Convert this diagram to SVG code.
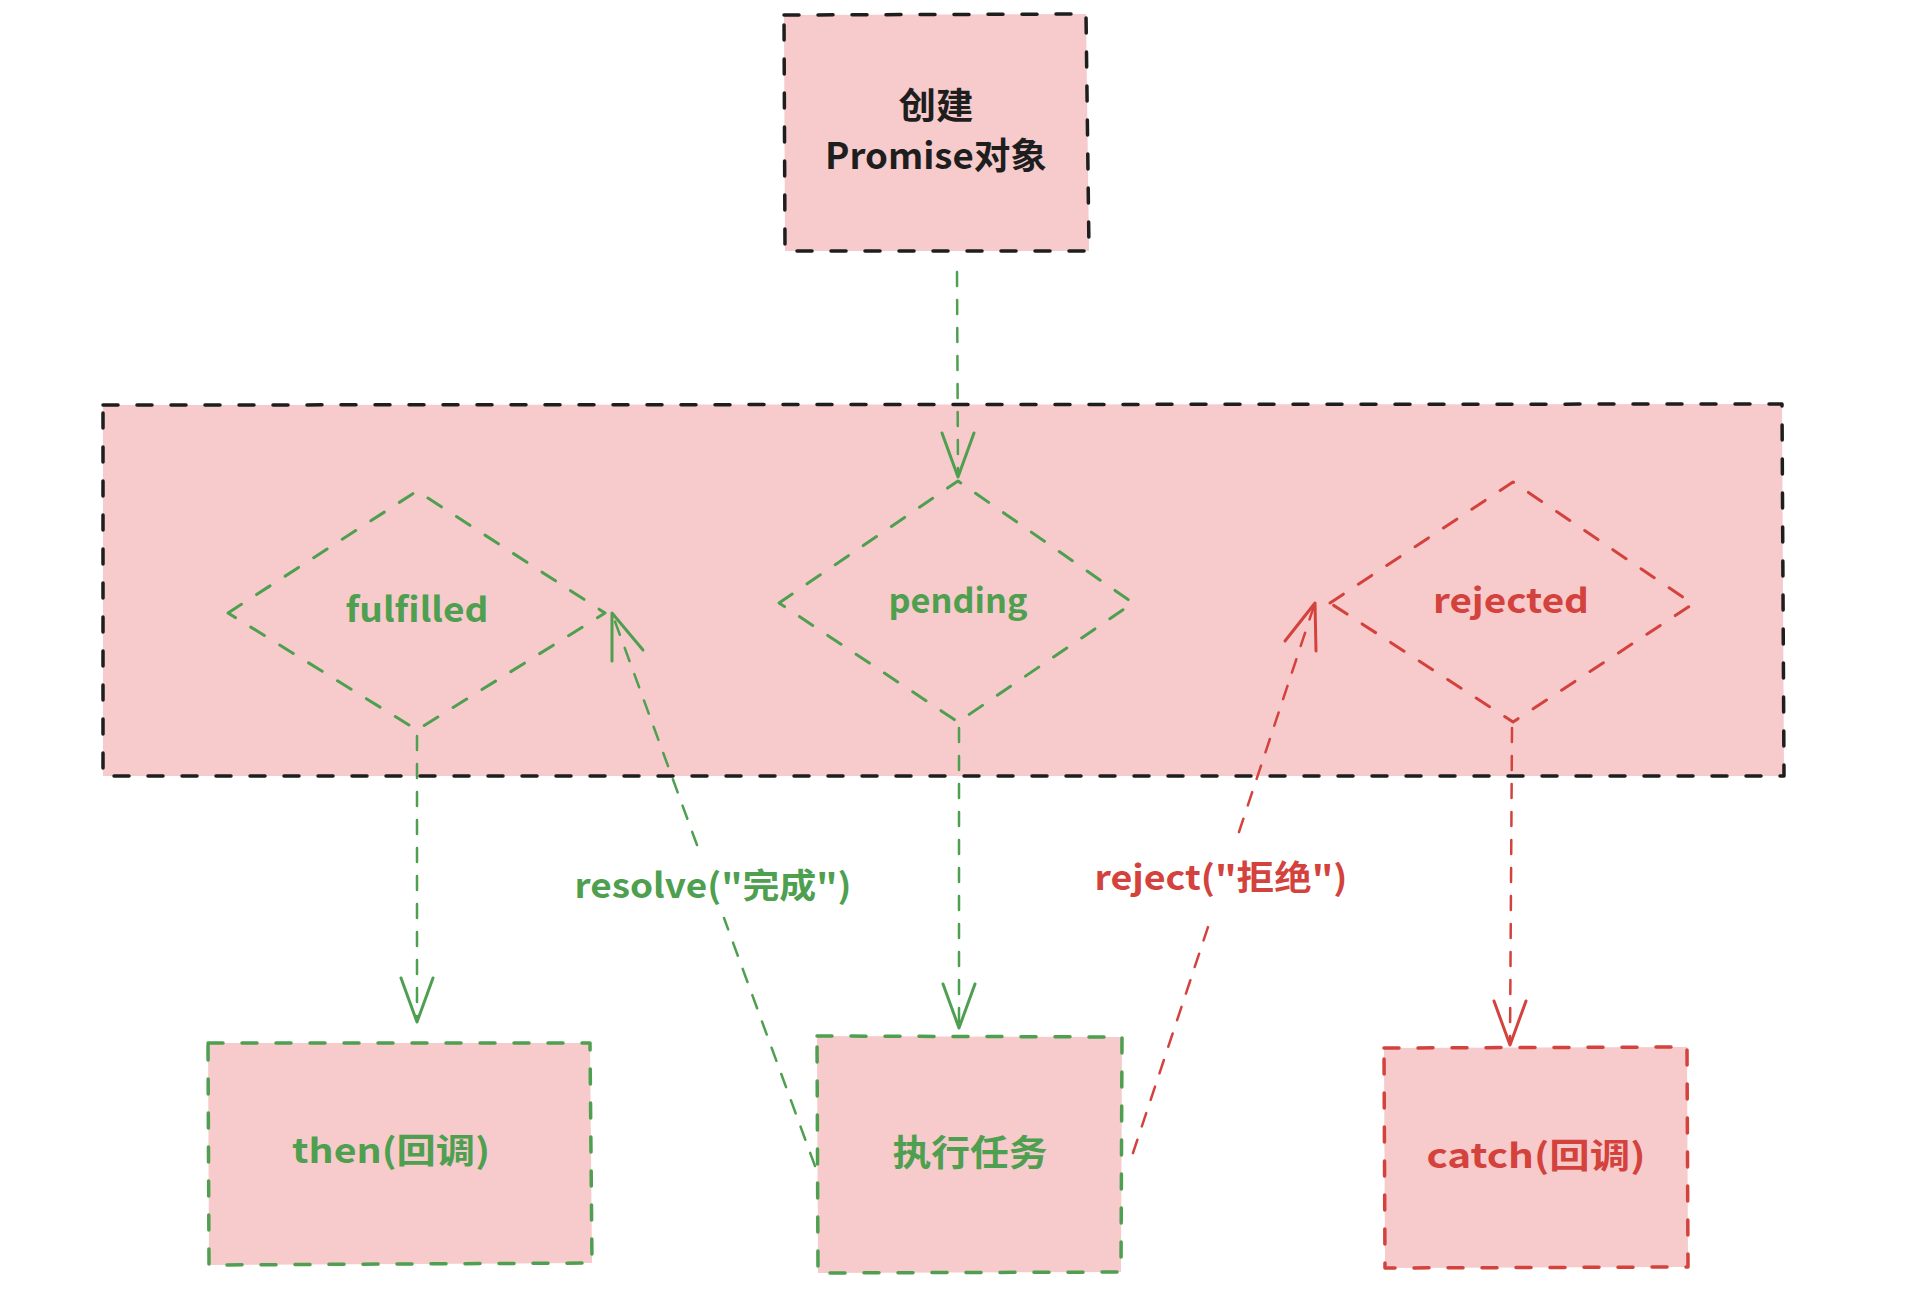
<svg xmlns="http://www.w3.org/2000/svg" width="1910" height="1302" viewBox="0 0 1910 1302">
<style>
.box{fill:#f7cbcb;stroke-width:3.5;stroke-dasharray:15 19;stroke-linecap:round;stroke-linejoin:round}
.blk{stroke:#1e1e1e}
.grn{stroke:#4e9f50}
.red{stroke:#d3423c}
.dia{fill:none;stroke-width:3;stroke-dasharray:16 18;stroke-linecap:round;stroke-linejoin:round}
.ln{fill:none;stroke-width:2.5;stroke-dasharray:14 14;stroke-linecap:round}
.hd{fill:none;stroke-width:3;stroke-linecap:round;stroke-linejoin:round}
text{font-family:"Noto Sans CJK SC","Noto Sans",sans-serif;text-anchor:middle;font-weight:bold}
.tg{fill:#4e9f50;font-size:34px}
.tr{fill:#d3423c;font-size:34px}
.tk{fill:#1e1e1e;font-size:36px}
</style>
<rect width="1910" height="1302" fill="#ffffff"/>
<g id="container">
<polygon class="box blk" points="103,405 1782,404 1784,776 103,776"/>
</g>
<g id="create">
<polygon class="box blk" points="784,15 1086,14 1089,251 785,251"/>
<text class="tk" x="936" y="119" textLength="75" lengthAdjust="spacingAndGlyphs">创建</text>
<text class="tk" x="936" y="169" textLength="222" lengthAdjust="spacingAndGlyphs">Promise对象</text>
</g>
<g id="fulfilled">
<polygon class="dia grn" points="228,613 417,491 605,613 417,730"/>
<text class="tg" x="417" y="622" textLength="143" lengthAdjust="spacingAndGlyphs">fulfilled</text>
</g>
<g id="pending">
<polygon class="dia grn" points="779,603 958,481 1133,603 958,722"/>
<text class="tg" x="958" y="613" textLength="139" lengthAdjust="spacingAndGlyphs">pending</text>
</g>
<g id="rejected">
<polygon class="dia red" points="1330,603 1513,482 1693,604 1513,722"/>
<text class="tr" x="1511" y="613" textLength="156" lengthAdjust="spacingAndGlyphs">rejected</text>
</g>
<g id="then">
<polygon class="box grn" points="208,1043 590,1043 592,1263 209,1265"/>
<text class="tg" x="391" y="1163" textLength="198" lengthAdjust="spacingAndGlyphs">then(回调)</text>
</g>
<g id="exec">
<polygon class="box grn" points="817,1036 1122,1037 1121,1272 818,1273"/>
<text class="tg" x="970" y="1166" style="font-size:36px" textLength="155" lengthAdjust="spacingAndGlyphs">执行任务</text>
</g>
<g id="catch">
<polygon class="box red" points="1384,1048 1687,1047 1688,1267 1385,1268"/>
<text class="tr" x="1536" y="1168" textLength="219" lengthAdjust="spacingAndGlyphs">catch(回调)</text>
</g>
<g id="connectors">
<path class="ln grn" d="M957,272 L958,475"/>
<path class="hd grn" d="M942,433 L958,477 L974,433"/>
<path class="ln grn" d="M417,736 L417,1020"/>
<path class="hd grn" d="M401,978 L417,1022 L433,978"/>
<path class="ln grn" d="M959,728 L959,1026"/>
<path class="hd grn" d="M943,984 L959,1028 L975,984"/>
<path class="ln red" d="M1512,728 L1510,1043"/>
<path class="hd red" d="M1494,1001 L1510,1045 L1526,1001"/>
<path class="ln grn" d="M815,1166 L724,918 M697,845 L613,616"/>
<path class="hd grn" d="M612,661 L612,613 L643,650"/>
<text class="tg" x="713" y="898" textLength="277" lengthAdjust="spacingAndGlyphs">resolve("完成")</text>
<path class="ln red" d="M1133,1153 L1212,915 M1239,832 L1314,606"/>
<path class="hd red" d="M1285,641 L1315,603 L1316,651"/>
<text class="tr" x="1221" y="890" textLength="253" lengthAdjust="spacingAndGlyphs">reject("拒绝")</text>
</g>
</svg>
